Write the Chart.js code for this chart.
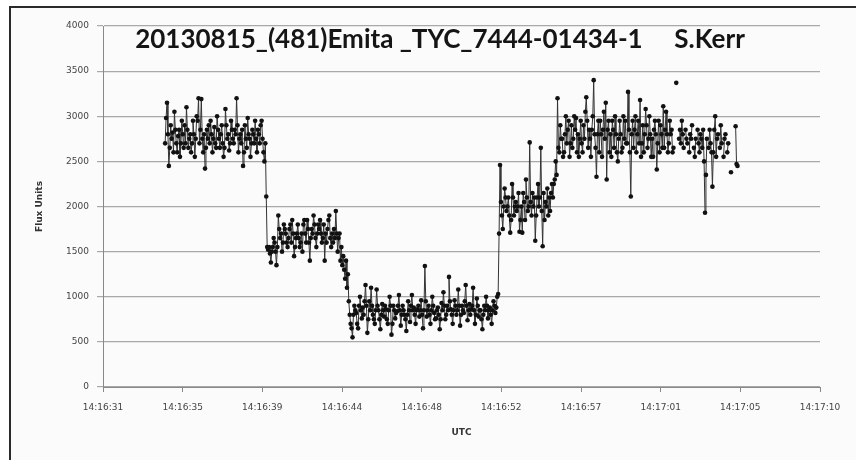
<!DOCTYPE html>
<html>
<head>
<meta charset="utf-8">
<script src="https://cdn.jsdelivr.net/npm/chart.js@4"></script>
<style>
  body { margin: 0; background: #fff; width: 856px; height: 460px; overflow: hidden; position: relative; }
  .frame { position: absolute; left: 9px; top: 6px; width: 847px; height: 454px;
           border-left: 2px solid #2a2a2a; border-top: 2px solid #2a2a2a; background: #fbfbfb; }
  .wrap { position: absolute; left: 0; top: 0; width: 856px; height: 460px; }
</style>
</head>
<body>
<div class="frame"></div>
<div class="wrap"><canvas id="lc"></canvas></div>
<script>
// seconds after 14:16:00 UTC, one value per video frame
const startSec = 34.09
const frameSec = 0.0503

const plateau1 = [2700, 2980, 3150, 2800, 2450, 2650, 2900, 2750, 2820, 2600,
    3050, 2850, 2700, 2600, 2780, 2850, 2550, 2700, 2950, 2800,
    2650, 2900, 2700, 3100, 2850, 2650, 2750, 2800, 2600, 2700,
    2950, 2800, 2550, 2750, 3000, 2950, 3200, 2700, 2850, 3190,
    2750, 2600, 2800, 2420, 2650, 2850, 2750, 2900, 2700, 2950,
    2800, 2600, 2750, 2880, 2700, 2650, 3000, 2850, 2750, 2650,
    2800, 2900, 2700, 2550, 2650, 3080, 2900, 2750, 2800, 2620,
    2700, 2950, 2850, 2750, 2700, 2850, 2800, 3200, 2900, 2600,
    2750, 2800, 2700, 2850, 2450, 2600, 2900, 2750, 2650, 2980,
    2800, 2750, 2550, 2700, 2850, 2800, 2700, 2950, 2750, 2600,
    2850, 2800, 2700, 2900, 2950, 2750, 2600, 2500]
const drop1 = [2700, 2110, 1550, 1520]
const plateau2 = [1550, 1480, 1380, 1500, 1550, 1650, 1600, 1500, 1350, 1550,
    1900, 1750, 1650, 1700, 1500, 1600, 1800, 1750, 1700, 1600,
    1550, 1650, 1750, 1800, 1600, 1850, 1700, 1450, 1550, 1650,
    1700, 1800, 1650, 1550, 1600, 1700, 1500, 1800, 1850, 1700,
    1600, 1850, 1750, 1600, 1400, 1650, 1750, 1700, 1900, 1800,
    1650, 1550, 1700, 1800, 1750, 1850, 1700, 1600, 1650, 1800,
    1400, 1700, 1600, 1750, 1850, 1900, 1650, 1550, 1700, 1600,
    1750, 1650]
const drop2 = [1950, 1700, 1500, 1650, 1700, 1400, 1550, 1350, 1450, 1300,
    1200, 1400, 1100, 1250, 950, 800]
const bottom = [700, 650, 550, 800, 900, 850, 820, 700, 650, 900,
    1000, 850, 760, 880, 800, 950, 1130, 900, 600, 750,
    950, 850, 1100, 900, 800, 750, 700, 850, 1080, 900,
    850, 750, 640, 800, 920, 850, 780, 900, 860, 750,
    700, 850, 1000, 900, 580, 700, 900, 850, 760, 820,
    840, 900, 1020, 850, 680, 800, 900, 850, 800, 750,
    620, 800, 950, 850, 720, 900, 1020, 850, 880, 800,
    700, 850, 860, 900, 780, 850, 960, 800, 650, 850,
    1340, 950, 780, 850, 900, 800, 700, 850, 1000, 900,
    820, 750, 760, 850, 880, 800, 640, 750, 930, 850,
    1050, 900, 750, 800, 900, 850, 1220, 950, 860, 800,
    700, 850, 960, 900, 800, 850, 1080, 900, 680, 800,
    900, 850, 820, 950, 1130, 900, 740, 850, 920, 800,
    860, 900, 1100, 850, 700, 800, 980, 900, 780, 850,
    850, 750, 640, 800, 900, 850, 1000, 900, 760, 850,
    880, 800, 700, 850, 950, 900, 820, 880, 1000, 1030]
const rise1 = [1700, 2460]
const step1 = [2050, 1900, 1750, 2000, 2200, 2100, 1950, 2000, 2100, 1900,
    1710, 1850, 2250, 2100, 1900, 2000, 2050, 1950, 2000, 2150,
    1720, 1850, 2000, 1710, 2150, 2050, 1850, 2300, 2100, 1950,
    2000, 2710, 2050, 1900, 2150, 2000, 2100, 1620, 1900, 2100,
    2250, 2000, 2100, 2650, 1950, 1560, 2150, 1850, 2050, 2000,
    2200, 1900, 2100, 1950, 2150, 2250]
const rise2 = [2100, 2250, 2300, 2500, 2350, 3200, 2650, 2600, 2900, 2750]
const plateau3 = [2750, 2550, 2600, 2800, 3000, 2700, 2850, 2950, 2550, 2700,
    2900, 2650, 2750, 3000, 2850, 2980, 2600, 2800, 2550, 2750,
    2950, 2700, 2600, 2900, 2750, 3050, 3210, 2950, 2650, 2850,
    2750, 2550, 2850, 3000, 3400, 2800, 2650, 2330, 2800, 2950,
    2600, 2950, 2800, 2550, 2850, 3050, 2750, 3150, 2300, 2850,
    2950, 2600, 2800, 2550, 2950, 2850, 2650, 3000, 2800, 2600,
    2500, 2750, 2950, 2800, 2600, 2650, 3000, 2750, 2950, 2700,
    2700, 3270, 2850, 2600, 2110, 2800, 2950, 2650, 2850, 3000,
    2600, 2800, 2950, 2700, 3180, 2550, 2700, 2900, 2600, 2800,
    3080, 2900, 2650, 2750, 3000, 2800, 2550, 2750, 2550, 2850,
    2950, 2800, 2410, 2700, 2950, 2600, 2900, 2800, 2650, 3110,
    2650, 2850, 3050, 2800, 2600, 2700, 2950, 2800, 2850, 2600,
    2650, null, null, 3370, null, null, 2750, 2850, 2700, 2950,
    2800, 2650, null, 2850, 2750, 2700, null, 2600, 2800, 2750,
    2900, null, 2650, 2550, 2750, null, 2850, 2700, 2600, 2800,
    2750, 2650, 2850, 2500, 1930, 2350, 2750, null, 2650, 2850,
    2700, 2600, 2220, 2600, 2850, 3000, 2550, 2750, 2800, null,
    2650, 2900, 2700, null, 2550, 2750, 2800, null, 2600, 2700,
    null, null, 2380, null, null, null, null, 2890, 2470, 2450]

const flux = [].concat(plateau1, drop1, plateau2, drop2, bottom, rise1, step1, rise2, plateau3)

const tickSec = [30.72, 35.04, 39.36, 43.68, 48.00, 52.32, 56.64, 60.96, 65.28, 69.60]
const tickLabels = ['14:16:31', '14:16:35', '14:16:39', '14:16:44', '14:16:48',
    '14:16:52', '14:16:57', '14:17:01', '14:17:05', '14:17:10']

const titleText = '20130815_(481)Emita _TYC_7444-01434-1     S.Kerr'

const points = flux.map((v, i) => ({ x: startSec + i * frameSec, y: v }))

const titleInside = {
    id: 'titleInside',
    afterDraw(chart) {
        const ctx = chart.ctx
        ctx.save()
        ctx.font = 'bold 26px Lato'
        ctx.fillStyle = '#151515'
        ctx.textAlign = 'center'
        ctx.textBaseline = 'alphabetic'
        ctx.fillText(titleText, 440, 48)
        ctx.restore()
    }
}

new Chart(document.getElementById('lc'), {
    type: 'line',
    data: {
        datasets: [{
            data: points,
            borderColor: '#333',
            borderWidth: 1,
            pointRadius: 2.3,
            pointBackgroundColor: '#111',
            pointBorderColor: '#111',
            pointBorderWidth: 0,
            spanGaps: false,
            tension: 0
        }]
    },
    options: {
        responsive: true,
        maintainAspectRatio: false,
        animation: false,
        layout: { padding: { left: 30, right: 36, top: 26, bottom: 18 } },
        plugins: { legend: { display: false }, tooltip: { enabled: false } },
        scales: {
            x: {
                type: 'linear',
                min: 30.72,
                max: 69.6,
                afterBuildTicks: s => { s.ticks = tickSec.map(v => ({ value: v })) },
                afterFit: s => { s.height = 55 },
                ticks: {
                    autoSkip: false,
                    maxRotation: 0,
                    padding: 10,
                    color: '#444',
                    font: { family: 'DejaVu Sans', size: 9 },
                    callback: (v, i) => tickLabels[i]
                },
                grid: { drawOnChartArea: false, drawTicks: true, tickLength: 5, color: '#888' },
                border: { color: '#888', width: 1 },
                title: {
                    display: true, text: 'UTC', padding: { top: 4, bottom: 4 },
                    color: '#333', font: { family: 'DejaVu Sans', size: 9, weight: 'bold' }
                }
            },
            y: {
                min: 0,
                max: 4000,
                afterFit: s => { s.width = 73 },
                ticks: {
                    stepSize: 500,
                    padding: 8,
                    color: '#444',
                    font: { family: 'DejaVu Sans', size: 9 },
                    callback: v => String(v)
                },
                grid: { color: '#a8a8a8', lineWidth: 1.2, tickLength: 6 },
                border: { color: '#888', width: 1 },
                title: {
                    display: true, text: 'Flux Units', padding: { bottom: 8 },
                    color: '#333', font: { family: 'DejaVu Sans', size: 9, weight: 'bold' }
                }
            }
        }
    },
    plugins: [titleInside]
})
</script>
</body>
</html>
